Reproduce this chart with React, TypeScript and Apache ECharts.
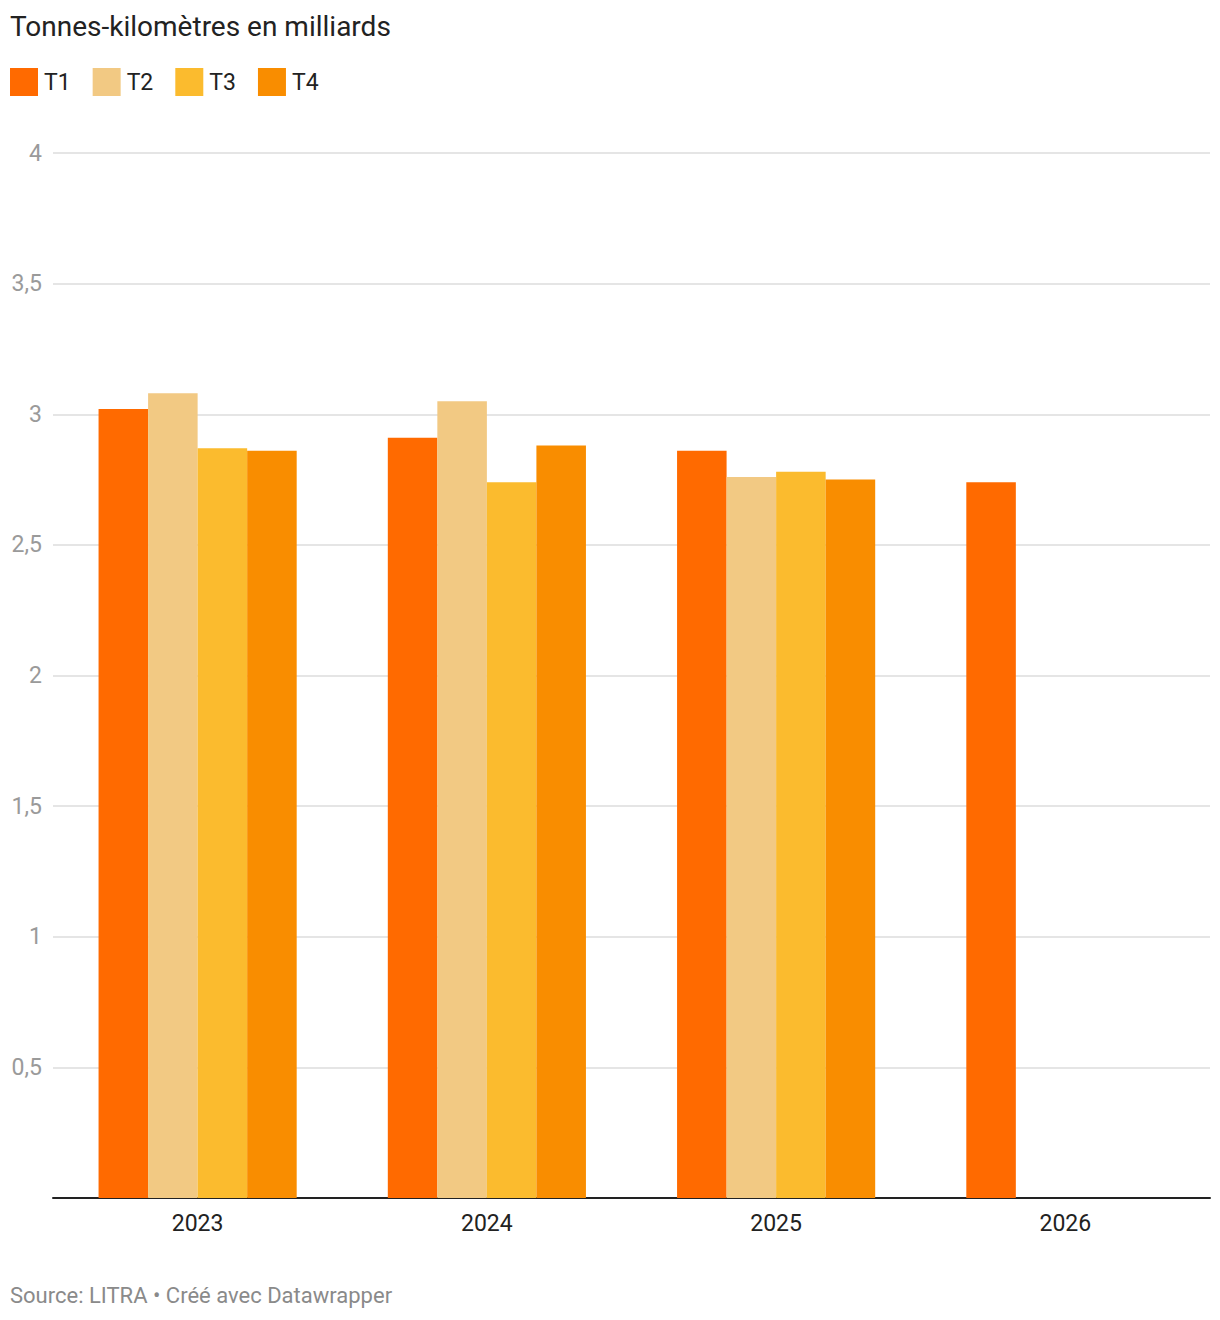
import React, { useEffect, useRef } from "react";
import * as echarts from "echarts";

const categories = ["2023", "2024", "2025", "2026"];
const seriesNames = ["T1", "T2", "T3", "T4"];
const t1 = [3.02, 2.91, 2.86, 2.74];
const t2: (number | null)[] = [3.08, 3.05, 2.76, null];
const t3: (number | null)[] = [2.87, 2.74, 2.78, null];
const t4: (number | null)[] = [2.86, 2.88, 2.75, null];
const colors = ["#ff6a00", "#f2c983", "#fbbb2e", "#f98d00"];
const yTicks = [0, 0.5, 1, 1.5, 2, 2.5, 3, 3.5, 4];

const FONT = "Roboto, 'Noto Sans', sans-serif";

export default function App() {
  const ref = useRef<HTMLDivElement>(null);
  useEffect(() => {
    document.body.style.margin = "0";
    const chart = echarts.init(ref.current!, null, { renderer: "svg" });
    const data = [t1, t2, t3, t4];
    chart.setOption({
      animation: false,
      backgroundColor: "#ffffff",
      textStyle: { fontFamily: FONT },
      title: {
        text: "Tonnes-kilomètres en milliards",
        left: 10,
        top: 12,
        padding: 0,
        textStyle: { fontSize: 28, fontWeight: "normal", color: "#222222", fontFamily: FONT },
      },
      legend: {
        left: 10,
        top: 68,
        padding: 0,
        icon: "rect",
        itemWidth: 28,
        itemHeight: 28,
        itemGap: 22,
        data: seriesNames,
        textStyle: { fontSize: 23, color: "#222222", fontFamily: FONT, padding: [0, 0, 0, 1] },
      },
      graphic: [
        {
          type: "text",
          left: 10,
          top: 1284,
          style: {
            text: "Source: LITRA • Créé avec Datawrapper",
            fontSize: 22,
            fill: "#8a8a8a",
            fontFamily: FONT,
          },
        },
      ],
      grid: { left: 53, right: 10, top: 153, bottom: 122, containLabel: false },
      xAxis: {
        type: "category",
        data: categories,
        axisLine: { show: true, lineStyle: { color: "#222222", width: 2 } },
        axisTick: { show: false },
        axisLabel: { fontSize: 23, color: "#222222", margin: 14, fontFamily: FONT },
      },
      yAxis: {
        type: "value",
        min: yTicks[0],
        max: yTicks[yTicks.length - 1],
        interval: 0.5,
        axisLine: { show: false },
        axisTick: { show: false },
        splitLine: { lineStyle: { color: "#e5e5e5", width: 2 } },
        axisLabel: {
          fontSize: 23,
          color: "#9a9a9a",
          margin: 11,
          fontFamily: FONT,
          formatter: (v: number) => (v === 0 ? "" : String(v).replace(".", ",")),
        },
      },
      series: seriesNames.map((name, i) => ({
        name,
        type: "bar",
        data: data[i],
        barGap: "0%",
        barCategoryGap: "31.5%",
        itemStyle: { color: colors[i] },
      })),
    });
    return () => chart.dispose();
  }, []);
  return (
    <div
      ref={ref}
      style={{ position: "absolute", left: 0, top: 0, width: 1220, height: 1320 }}
    />
  );
}
